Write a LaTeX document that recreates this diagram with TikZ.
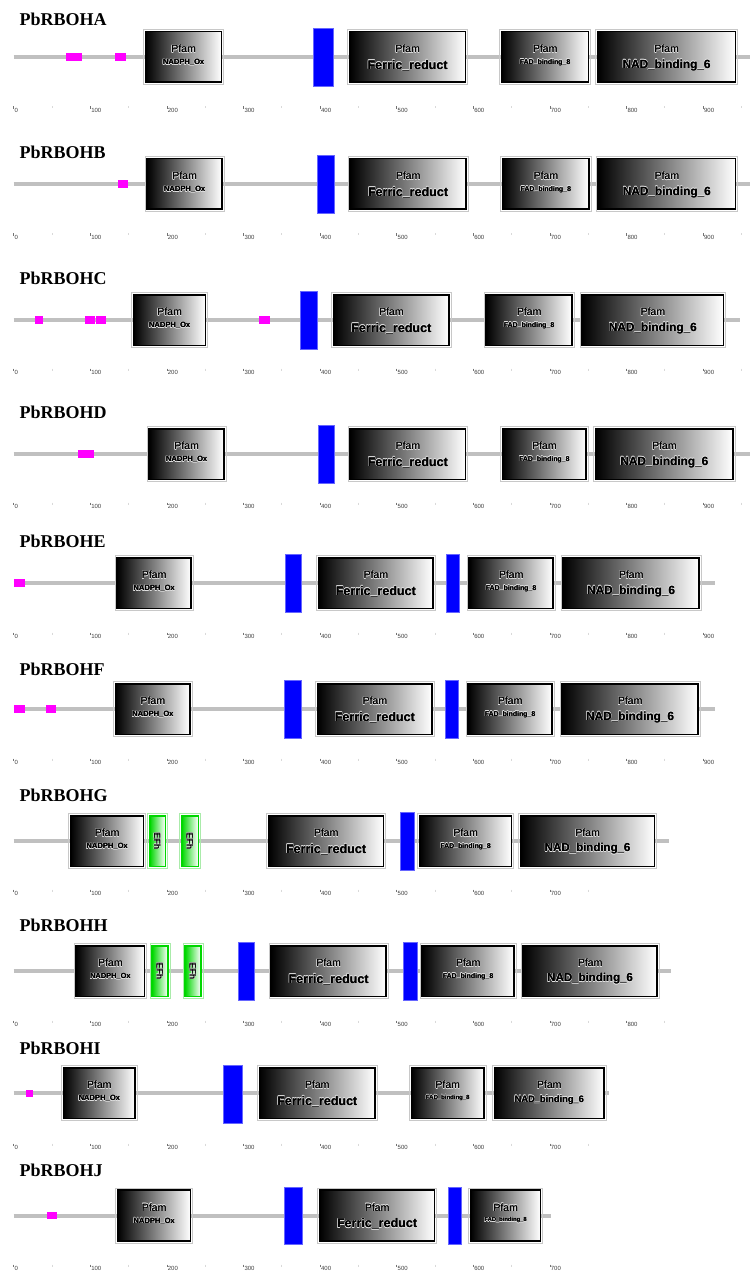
\documentclass[tikz,border=0pt]{standalone}
\usepackage{fontspec}
\setmainfont{Liberation Serif}
\newfontfamily\arialfont{Liberation Sans}

\definecolor{bbgray}{RGB}{192,192,192}
\definecolor{framegray}{RGB}{200,200,200}
\definecolor{tmblue}{RGB}{0,0,255}
\definecolor{lcpink}{RGB}{255,0,255}
\definecolor{efgreen}{RGB}{0,215,0}
\definecolor{eflight}{RGB}{170,235,170}

% light halo behind a label, slightly emboldened text on top
\newcommand{\glow}[1]{{\color{white!88!black}\foreach \gx/\gy in {0.5/0,-0.5/0,0/0.5,0/-0.5,0.35/0.35,-0.35/0.35,0.35/-0.35,-0.35/-0.35}{\rlap{\hspace*{\gx pt}\raisebox{\gy pt}{#1}}}}{\color{black}\rlap{\hspace*{0.25pt}#1}#1}}

\tikzset{
  backbone/.style={draw=bbgray, line width=4pt},
  pfambox/.style={draw=black, line width=1.6pt, left color=black, middle color=black!42, right color=white, minimum height=50.6pt, inner sep=0pt},
  frame/.style={draw=framegray, line width=0.8pt},
  efhbox/.style={draw=efgreen, line width=1.6pt, left color=efgreen, middle color=efgreen!45, right color=white, minimum height=50.6pt, inner sep=0pt},
  efhframe/.style={draw=eflight, line width=0.8pt},
  tmseg/.style={fill=tmblue, draw=blue!60!white, line width=0.5pt, inner sep=0pt},
  lcseg/.style={fill=lcpink, inner sep=0pt},
  pfamtxt/.style={font=\arialfont\fontsize{10.5}{10.5}\selectfont, text=black, inner sep=0pt},
  protname/.style={font=\bfseries\fontsize{18}{18}\selectfont, anchor=west, inner sep=0pt},
  ticklab/.style={font=\arialfont\fontsize{6}{6}\selectfont, text=black!75, anchor=west, inner sep=0pt},
  majortick/.style={draw=black!55, line width=0.4pt},
  minortick/.style={draw=black!15, line width=0.6pt},
}

% pfam domain: node, left, right, line y, label, label size
\newcommand{\pfam}[6]{%
  \node[pfambox, minimum width={#3-#2-5.4}] (#1) at ({(#2+#3)/2},#4) {};
  \draw[frame] ([shift={(-1.5pt,1.5pt)}]#1.north west) rectangle ([shift={(1.5pt,-1.5pt)}]#1.south east);
  \pgfmathsetmacro\nameoff{1.5+0.55*#6}
  \node[pfamtxt] (#1-p) at ([yshift=8pt]#1.center) {\glow{Pfam}};
  \node[pfamtxt, font=\arialfont\bfseries\fontsize{#6}{#6}\selectfont] (#1-n) at ([yshift=-\nameoff pt]#1.center) {\glow{#5}};
}
% EF hand: node, left, right, line y
\newcommand{\efhand}[4]{%
  \node[efhbox, minimum width={#3-#2-5.4}] (#1) at ({(#2+#3)/2},#4) {};
  \draw[efhframe] ([shift={(-1.5pt,1.5pt)}]#1.north west) rectangle ([shift={(1.5pt,-1.5pt)}]#1.south east);
  \node[pfamtxt, font=\arialfont\fontsize{9}{9}\selectfont, rotate=-90] (#1-t) at (#1.center) {\glow{EFh}};
}
% plain segment: style, node, left, right, top, bottom
\newcommand{\segbox}[6]{%
  \node[#1, minimum width={#4-#3}, minimum height={#6-#5}] (#2) at ({(#3+#4)/2},{(#5+#6)/2}) {};
}
% scale: row, y, last label, last minor tick
\newcommand{\aaruler}[4]{%
  \foreach \t in {0,100,...,#3} {
    \draw[majortick] ({13.5+0.766*\t},#2-3.5) -- ({13.5+0.766*\t},#2-1);
    \node[ticklab] (#1-t\t) at ({14.5+0.766*\t},#2) {\t};
  }
  \foreach \t in {50,150,...,#4}
    \draw[minortick] ({13.5+0.766*\t},#2-3.5) -- ({13.5+0.766*\t},#2-1.5);
}

\begin{document}
\begin{tikzpicture}[x=1pt, y=-1pt]
  \fill[white] (0,0) rectangle (750,1273);
  \useasboundingbox (0,0) rectangle (750,1273);

  % PbRBOHA
  \node[protname] (titleA) at (19.5,19) {PbRBOHA};
  \coordinate (A-s) at (13.5,57); \coordinate (A-e) at (750,57);
  \draw[backbone] (A-s) -- (A-e);
  \segbox{lcseg}{A-lc1}{66}{82}{53}{61}
  \segbox{lcseg}{A-lc2}{115}{126}{53}{61}
  \pfam{A-nox}{143}{224}{57}{NADPH\_Ox}{7.6}
  \segbox{tmseg}{A-tm1}{313}{333}{28}{86}
  \pfam{A-fer}{347}{468}{57}{Ferric\_reduct}{12.5}
  \pfam{A-fad}{499}{591}{57}{FAD\_binding\_8}{6.9}
  \pfam{A-nad}{595}{738}{57}{NAD\_binding\_6}{11.8}
  \aaruler{A}{110}{900}{950}

  % PbRBOHB
  \node[protname] (titleB) at (19.5,152) {PbRBOHB};
  \coordinate (B-s) at (13.5,184); \coordinate (B-e) at (750,184);
  \draw[backbone] (B-s) -- (B-e);
  \segbox{lcseg}{B-lc1}{118}{128}{180}{188}
  \pfam{B-nox}{144.5}{224.5}{184}{NADPH\_Ox}{7.6}
  \segbox{tmseg}{B-tm1}{317.5}{334}{155}{213}
  \pfam{B-fer}{347.5}{468.5}{184}{Ferric\_reduct}{12.5}
  \pfam{B-fad}{500}{591.5}{184}{FAD\_binding\_8}{6.9}
  \pfam{B-nad}{595.5}{738}{184}{NAD\_binding\_6}{11.8}
  \aaruler{B}{237}{900}{950}

  % PbRBOHC
  \node[protname] (titleC) at (19.5,278) {PbRBOHC};
  \coordinate (C-s) at (13.5,320); \coordinate (C-e) at (740,320);
  \draw[backbone] (C-s) -- (C-e);
  \segbox{lcseg}{C-lc1}{34.5}{43}{316}{324}
  \segbox{lcseg}{C-lc2}{84.5}{94.5}{316}{324}
  \segbox{lcseg}{C-lc3}{95.5}{105.5}{316}{324}
  \segbox{lcseg}{C-lc4}{258.5}{269.5}{316}{324}
  \pfam{C-nox}{131}{208}{320}{NADPH\_Ox}{7.6}
  \segbox{tmseg}{C-tm1}{300.5}{317.5}{291}{349}
  \pfam{C-fer}{331}{451.5}{320}{Ferric\_reduct}{12.5}
  \pfam{C-fad}{483.5}{574.5}{320}{FAD\_binding\_8}{6.9}
  \pfam{C-nad}{579.5}{726}{320}{NAD\_binding\_6}{11.8}
  \aaruler{C}{372}{900}{950}

  % PbRBOHD
  \node[protname] (titleD) at (19.5,412) {PbRBOHD};
  \coordinate (D-s) at (13.5,454); \coordinate (D-e) at (750,454);
  \draw[backbone] (D-s) -- (D-e);
  \segbox{lcseg}{D-lc1}{78}{94}{450}{458}
  \pfam{D-nox}{146.5}{226.5}{454}{NADPH\_Ox}{7.6}
  \segbox{tmseg}{D-tm1}{318}{334.5}{425}{483}
  \pfam{D-fer}{347.5}{468}{454}{Ferric\_reduct}{12.5}
  \pfam{D-fad}{500}{588.5}{454}{FAD\_binding\_8}{6.9}
  \pfam{D-nad}{593}{735.5}{454}{NAD\_binding\_6}{11.8}
  \aaruler{D}{506}{900}{950}

  % PbRBOHE
  \node[protname] (titleE) at (19.5,541) {PbRBOHE};
  \coordinate (E-s) at (13.5,583); \coordinate (E-e) at (715,583);
  \draw[backbone] (E-s) -- (E-e);
  \segbox{lcseg}{E-lc1}{14}{25}{579}{587}
  \pfam{E-nox}{114.5}{193.5}{583}{NADPH\_Ox}{7.6}
  \segbox{tmseg}{E-tm1}{285}{301.5}{554}{612}
  \pfam{E-fer}{316}{435.5}{583}{Ferric\_reduct}{12.5}
  \segbox{tmseg}{E-tm2}{446.5}{459.5}{554}{612}
  \pfam{E-fad}{466.5}{555.5}{583}{FAD\_binding\_8}{6.9}
  \pfam{E-nad}{560.5}{701.5}{583}{NAD\_binding\_6}{11.8}
  \aaruler{E}{636}{900}{850}

  % PbRBOHF
  \node[protname] (titleF) at (19.5,669) {PbRBOHF};
  \coordinate (F-s) at (13.5,709); \coordinate (F-e) at (715,709);
  \draw[backbone] (F-s) -- (F-e);
  \segbox{lcseg}{F-lc1}{14}{25}{705}{713}
  \segbox{lcseg}{F-lc2}{45.5}{55.5}{705}{713}
  \pfam{F-nox}{113}{192.5}{709}{NADPH\_Ox}{7.6}
  \segbox{tmseg}{F-tm1}{284.5}{301}{680}{738}
  \pfam{F-fer}{315}{434.5}{709}{Ferric\_reduct}{12.5}
  \segbox{tmseg}{F-tm2}{445.5}{458.5}{680}{738}
  \pfam{F-fad}{465.5}{554.5}{709}{FAD\_binding\_8}{6.9}
  \pfam{F-nad}{559.5}{700.5}{709}{NAD\_binding\_6}{11.8}
  \aaruler{F}{762}{900}{850}

  % PbRBOHG
  \node[protname] (titleG) at (19.5,795) {PbRBOHG};
  \coordinate (G-s) at (13.5,841); \coordinate (G-e) at (669,841);
  \draw[backbone] (G-s) -- (G-e);
  \pfam{G-nox}{68}{146}{841}{NADPH\_Ox}{7.6}
  \efhand{G-ef1}{147}{168}{841}
  \efhand{G-ef2}{179}{201}{841}
  \pfam{G-fer}{266}{386}{841}{Ferric\_reduct}{12.5}
  \segbox{tmseg}{G-tm1}{400}{414}{812}{870}
  \pfam{G-fad}{417}{514}{841}{FAD\_binding\_8}{6.9}
  \pfam{G-nad}{518}{657}{841}{NAD\_binding\_6}{11.5}
  \aaruler{G}{893}{700}{750}

  % PbRBOHH
  \node[protname] (titleH) at (19.5,925) {PbRBOHH};
  \coordinate (H-s) at (13.5,971); \coordinate (H-e) at (671,971);
  \draw[backbone] (H-s) -- (H-e);
  \pfam{H-nox}{73.5}{147}{971}{NADPH\_Ox}{7.4}
  \efhand{H-ef1}{149.5}{170.5}{971}
  \efhand{H-ef2}{182.5}{203.5}{971}
  \segbox{tmseg}{H-tm1}{238.5}{254.5}{942}{1000}
  \pfam{H-fer}{268.5}{388.5}{971}{Ferric\_reduct}{12.5}
  \segbox{tmseg}{H-tm2}{403.5}{417.5}{942}{1000}
  \pfam{H-fad}{419.5}{516.5}{971}{FAD\_binding\_8}{6.9}
  \pfam{H-nad}{520.5}{659.5}{971}{NAD\_binding\_6}{11.5}
  \aaruler{H}{1024}{800}{850}

  % PbRBOHI
  \node[protname] (titleI) at (19.5,1048) {PbRBOHI};
  \coordinate (I-s) at (13.5,1093); \coordinate (I-e) at (609,1093);
  \draw[backbone] (I-s) -- (I-e);
  \segbox{lcseg}{I-lc1}{26}{33.3}{1090}{1097}
  \pfam{I-nox}{60.7}{137.7}{1093}{NADPH\_Ox}{7.6}
  \segbox{tmseg}{I-tm1}{223}{242}{1065}{1123}
  \pfam{I-fer}{256.7}{377.7}{1093}{Ferric\_reduct}{12.5}
  \pfam{I-fad}{408.7}{486.7}{1093}{FAD\_binding\_8}{6}
  \pfam{I-nad}{491.7}{606.7}{1093}{NAD\_binding\_6}{9.3}
  \aaruler{I}{1147}{700}{750}

  % PbRBOHJ
  \node[protname] (titleJ) at (19.5,1170) {PbRBOHJ};
  \coordinate (J-s) at (13.5,1215.5); \coordinate (J-e) at (551,1215.5);
  \draw[backbone] (J-s) -- (J-e);
  \segbox{lcseg}{J-lc1}{47}{57}{1212}{1219}
  \pfam{J-nox}{115}{193}{1215.5}{NADPH\_Ox}{7.6}
  \segbox{tmseg}{J-tm1}{284}{302}{1187}{1244}
  \pfam{J-fer}{317}{437}{1215.5}{Ferric\_reduct}{12.5}
  \segbox{tmseg}{J-tm2}{448}{461}{1187}{1244}
  \pfam{J-fad}{468}{543}{1215.5}{FAD\_binding\_8}{5.8}
  \aaruler{J}{1268}{700}{650}
\end{tikzpicture}
\end{document}
